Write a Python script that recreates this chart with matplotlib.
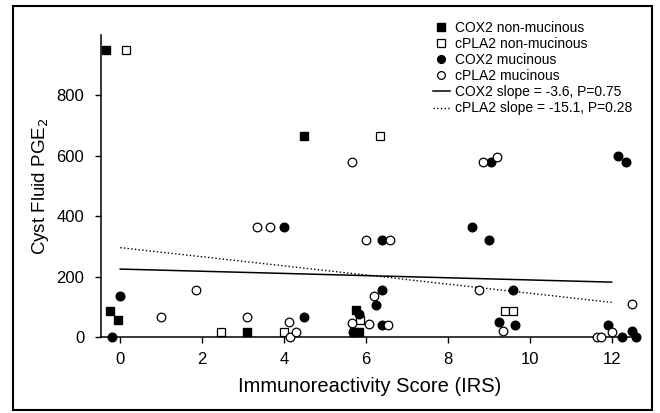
import matplotlib
matplotlib.use('Agg')
import matplotlib.pyplot as plt
from matplotlib.patches import Rectangle

plt.rcParams['font.family'] = ['Liberation Sans', 'DejaVu Sans']

# COX2 non-mucinous (filled squares)
cox2_non_x = [-0.35, -0.25, -0.05, 3.1, 4.5, 5.75, 5.72, 5.82]
cox2_non_y = [950, 85, 55, 15, 665, 88, 15, 15]
# cPLA2 non-mucinous (open squares)
cpla2_non_x = [0.15, 2.45, 4.0, 5.85, 6.35, 9.4, 9.6]
cpla2_non_y = [950, 15, 15, 55, 665, 85, 85]
# COX2 mucinous (filled circles)
cox2_muc_x = [-0.2, 0.0, 4.0, 4.5, 5.68, 5.82, 6.25, 6.4, 6.4, 6.4, 8.6,
              9.0, 9.05, 9.25, 9.6, 9.65, 11.9, 12.15, 12.25, 12.35, 12.5, 12.6]
cox2_muc_y = [0, 135, 365, 65, 15, 75, 105, 155, 320, 40, 365,
              320, 580, 50, 155, 40, 40, 600, 0, 580, 20, 0]
# cPLA2 mucinous (open circles)
cpla2_muc_x = [1.0, 1.85, 3.1, 3.35, 3.65, 4.12, 4.15, 4.3, 5.65, 5.67, 6.0,
               6.08, 6.2, 6.55, 6.6, 8.75, 8.85, 9.2, 9.35, 11.65, 11.75, 12.0, 12.5]
cpla2_muc_y = [65, 155, 65, 365, 365, 50, 0, 18, 580, 45, 320,
               42, 135, 40, 320, 155, 580, 595, 20, 0, 0, 15, 110]

# regression fits: intercept, slope
cox2_fit = [225, -3.6]
cpla2_fit = [296, -15.1]
fit_x = [0, 12]

fig = plt.figure(figsize=(6.6, 4.13), dpi=100)
ax = fig.add_axes([0.153, 0.184, 0.814, 0.731])

ms = 6.2
ax.plot(cox2_non_x, cox2_non_y, 's', color='black', ms=ms, clip_on=False,
        zorder=3, label='COX2 non-mucinous')
ax.plot(cpla2_non_x, cpla2_non_y, 's', mfc='white', mec='black', mew=0.9,
        ms=ms, clip_on=False, zorder=3, label='cPLA2 non-mucinous')
ax.plot(cox2_muc_x, cox2_muc_y, 'o', color='black', ms=ms, clip_on=False,
        zorder=3, label='COX2 mucinous')
ax.plot(cpla2_muc_x, cpla2_muc_y, 'o', mfc='white', mec='black', mew=0.9,
        ms=ms, clip_on=False, zorder=3, label='cPLA2 mucinous')

ax.plot(fit_x, [cox2_fit[0] + cox2_fit[1] * x for x in fit_x], '-',
        color='black', lw=1.1, zorder=2, label='COX2 slope = -3.6, P=0.75')
ax.plot(fit_x, [cpla2_fit[0] + cpla2_fit[1] * x for x in fit_x], ':',
        color='black', lw=1.0, zorder=2, label='cPLA2 slope = -15.1, P=0.28')

ax.set_xlim(-0.47, 12.65)
ax.set_ylim(0, 1000)
ax.set_xticks(range(0, 13, 2))
ax.set_yticks(range(0, 801, 200))
ax.spines['top'].set_visible(False)
ax.spines['right'].set_visible(False)
for s in ['left', 'bottom']:
    ax.spines[s].set_linewidth(1.1)
ax.tick_params(direction='out', length=4, width=1, labelsize=12)
ax.tick_params(axis='x', pad=7)
ax.tick_params(axis='y', pad=8)

ax.set_xlabel('Immunoreactivity Score (IRS)', fontsize=14.5, labelpad=7)
ax.set_ylabel('Cyst Fluid PGE$_2$', fontsize=13.5, labelpad=4)

ax.legend(loc='upper left', bbox_to_anchor=(433 / 660, 1 - 21 / 413),
          bbox_transform=fig.transFigure, frameon=False, fontsize=10,
          handlelength=1.2, handletextpad=0.4, labelspacing=0.15,
          borderpad=0, borderaxespad=0, markerscale=0.9)

# border around whole figure
fig.patches.append(Rectangle((0.02, 0.007), 0.968, 0.978, fill=False,
                             lw=1.5, ec='black', transform=fig.transFigure))

fig.savefig('out.png', dpi=100)
